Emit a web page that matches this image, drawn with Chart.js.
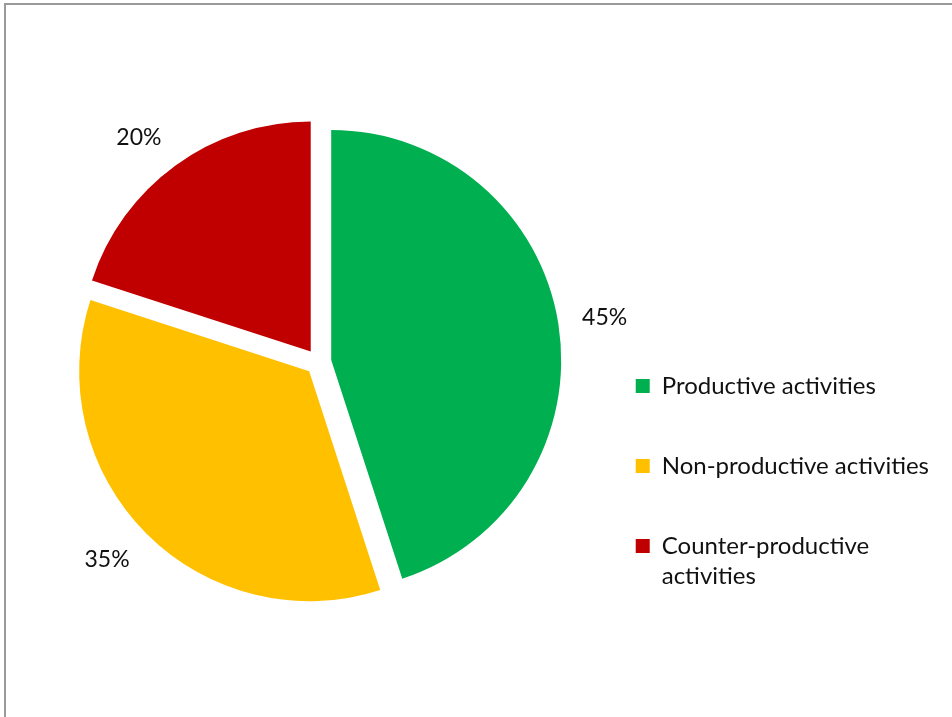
<!DOCTYPE html>
<html>
<head>
<meta charset="utf-8">
<script src="https://cdn.jsdelivr.net/npm/chart.js@4/dist/chart.umd.min.js"></script>
<style>
  html, body { margin: 0; padding: 0; background: #fff; }
  #frame {
    position: absolute; left: 4px; top: 3px; width: 960px; height: 720px;
    border-left: 2px solid #9a9a9a; border-top: 2px solid #9a9a9a;
  }
  #wrap { position: absolute; left: 0; top: 0; width: 952px; height: 717px; }
</style>
</head>
<body>
<div id="frame"></div>
<div id="wrap"><canvas id="activityPie"></canvas></div>
<script>
// Share of time by activity type
const categories = ['Productive activities', 'Non-productive activities', ['Counter-productive', 'activities']];
const shares = [45, 35, 20];
const sliceColors = ['#00B050', '#FFC000', '#C00000'];

const EXPLODE = 13;     // how far each slice is pulled out along its bisector
const LABEL_GAP = 24;   // distance of the % label from the slice edge
const FONT = 'Lato, "Open Sans", sans-serif';

// Pull every slice out from the centre before drawing it
const explodeSlices = {
    id: 'explodeSlices',
    beforeDatasetDraw(chart, args) {
        const ctx = chart.ctx;
        args.meta.data.forEach(arc => {
            const mid = (arc.startAngle + arc.endAngle) / 2;
            ctx.save();
            ctx.translate(Math.cos(mid) * EXPLODE, Math.sin(mid) * EXPLODE);
            arc.draw(ctx);
            ctx.restore();
        });
        return false;
    }
};

// Percentage labels just outside each slice
const outsideLabels = {
    id: 'outsideLabels',
    afterDatasetsDraw(chart) {
        const ctx = chart.ctx;
        const meta = chart.getDatasetMeta(0);
        const clamp = v => Math.max(-1, Math.min(1, v));
        ctx.save();
        ctx.font = '23px ' + FONT;
        ctx.fillStyle = '#111';
        ctx.textAlign = 'center';
        ctx.textBaseline = 'middle';
        meta.data.forEach((arc, i) => {
            const text = shares[i] + '%';
            const mid = (arc.startAngle + arc.endAngle) / 2;
            const cos = Math.cos(mid), sin = Math.sin(mid);
            const r = arc.outerRadius + EXPLODE + LABEL_GAP;
            const w = ctx.measureText(text).width;
            const h = 17;
            const x = arc.x + cos * r + (w / 2) * clamp(cos * 2);
            const y = arc.y + sin * r + (h / 2) * clamp(sin * 2);
            ctx.fillText(text, x, y);
        });
        ctx.restore();
    }
};

const ctx = document.getElementById('activityPie').getContext('2d');
new Chart(ctx, {
    type: 'pie',
    data: {
        labels: categories,
        datasets: [{
            data: shares,
            backgroundColor: sliceColors,
            borderWidth: 0,
            radius: 230
        }]
    },
    options: {
        responsive: true,
        maintainAspectRatio: false,
        animation: false,
        layout: {
            padding: { left: 57, right: 13, top: 74, bottom: 67 }
        },
        plugins: {
            legend: {
                position: 'right',
                align: 'end',
                labels: {
                    boxWidth: 14,
                    boxHeight: 14,
                    padding: 56,
                    color: '#111',
                    font: { family: FONT, size: 24, lineHeight: 1.25 }
                }
            },
            tooltip: { enabled: false }
        }
    },
    plugins: [explodeSlices, outsideLabels]
});
</script>
</body>
</html>
